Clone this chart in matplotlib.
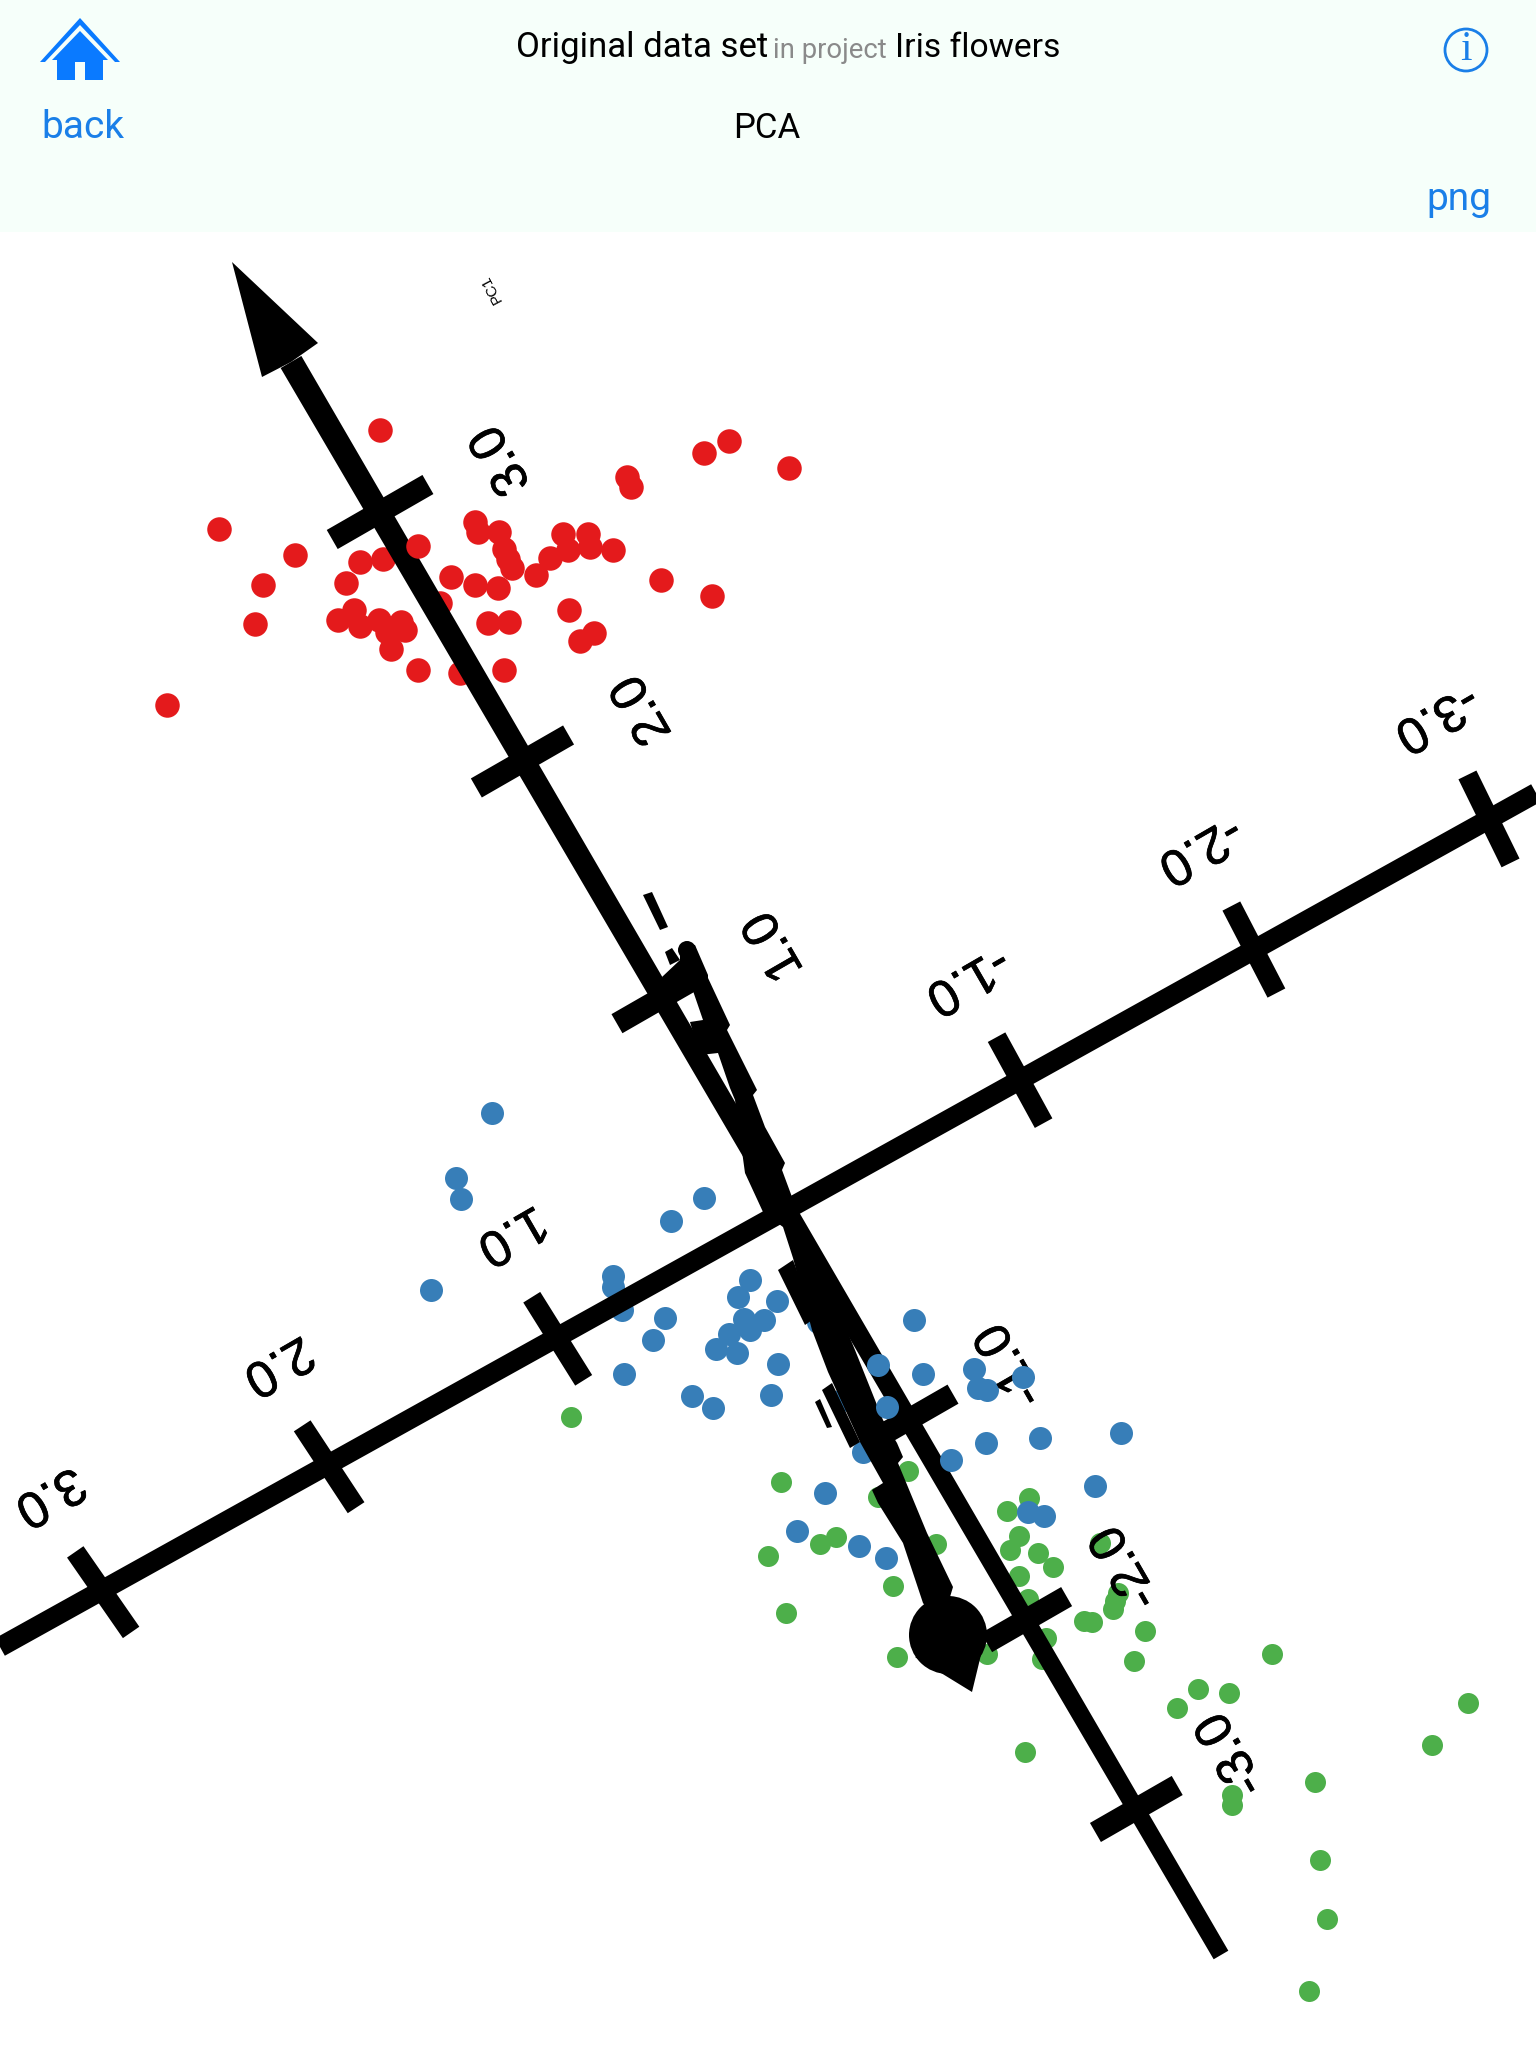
# PCA biplot screen: iris flowers, three principal axes seen in perspective
import numpy as np
from matplotlib import pyplot as plt
from matplotlib import patheffects as pe
from matplotlib.patches import Polygon, Circle, Rectangle

K = 1536 / 1176  # points were read on the shrunk picture

red_x = [291,168,226,201,195,128,265,276,293,364,366,382,386,389,392,431,450,452,435,421,469,410,345,364,381,337,
         480,483,539,558,604,506,545,436,455,444,374,390,386,352,320,299,259,271,276,290,296,307,310]
red_y = [329,405,425,448,478,540,446,430,428,400,407,407,420,428,435,409,409,419,421,427,421,440,442,448,450,462,
         365,373,347,338,358,444,456,467,485,491,477,476,513,515,513,497,475,467,479,475,484,476,482]
red_front_x = [320]
red_front_y = [418]

blue_x = [377,349,353,330,514,539,469,469,476,509,500,478,530,546,548,564,558,565,574,570,574,585,595,596,590,626,
          700,707,746,749,756,755,796,858,838,787,799,632,610,658,678,661,645]
blue_y = [852,902,918,988,935,917,977,985,1003,1009,1026,1052,1069,1078,1033,1036,1021,993,980,1010,1018,1011,996,1044,1068,1012,
          1011,1052,1048,1063,1064,1105,1101,1097,1138,1158,1161,1143,1172,1184,1193,1112,1072]
# these four sit in front of the axes
blue_front_x = [672,679,728,783]
blue_front_y = [1045,1077,1118,1054]

green_x = [598,588,628,640,602,684,687,695,672,717,788,771,780,773,795,806,780,787,830,836,801,756,798,842,
           437,877,868,856,854,852,974,917,941,901,785,1007,943,943,1096,1124,1011,1016,1002]
green_y = [1135,1191,1182,1177,1235,1214,1269,1126,1146,1182,1147,1157,1176,1187,1189,1200,1207,1224,1241,1242,1254,1266,1270,1181,
           1085,1249,1272,1220,1226,1232,1266,1293,1296,1308,1341,1364,1374,1382,1336,1304,1424,1469,1524]

pc1_labels = ['3.0','2.0','1.0','-1.0','-2.0','-3.0']
pc1_tick_x = [291,400,505,699,786,870]
pc1_tick_y = [392,583,765,1085,1240,1385]
pc1_tick_half = [55,53,49,46,46,47]
pc1_label_x = [384,492,593,774,862,943]
pc1_label_y = [352,543,724,1045,1200,1343]

pc2_labels = ['3.0','2.0','1.0','-1.0','-2.0','-3.0']
pc2_tick_x = [79,252,427,781,960,1140]
pc2_tick_y = [1219,1123,1025,827,727,627]
pc2_tick_dx = [0.57,0.55,0.53,0.48,0.46,0.44]
pc2_label_x = [38,213,392,741,919,1100]
pc2_label_y = [1145,1045,945,750,650,549]

# outline of the PC3 shaft, it widens towards the viewer
pc3_outline = [(680,945),(695,945),(708,975),(708,978),(730,1025),(727,1030),(757,1090),(753,1095),(765,1127),
               (785,1163),(782,1170),(792,1197),(830,1290),(855,1350),(883,1420),(897,1443),(903,1457),(898,1463),
               (927,1533),(953,1587),(950,1597),(948,1635),(923,1603),(903,1543),(878,1503),(872,1490),(883,1483),
               (860,1442),(828,1372),(812,1330),(793,1258),(783,1227),(763,1212),(745,1173),(735,1100),(730,1088),
               (718,1053),(700,1055),(690,1022),(703,1020),(692,988),(665,995),(662,977),(680,960)]
# squeezed ticks and labels of PC3
pc3_pieces = [[(778,1270),(793,1260),(815,1318),(805,1325)],
              [(822,1390),(832,1383),(860,1442),(850,1448)],
              [(815,1402),(820,1399),(832,1427),(827,1428)],
              [(643,895),(652,892),(668,927),(660,930)],
              [(665,952),(672,948),(680,960),(670,965)]]

BLACK = 'black'
BLUE = '#0A7AFF'
LINK = '#1A7FE8'
HEAD = '#F6FFFA'

fig = plt.figure(figsize=(15.36, 20.48), dpi=100)
ax = fig.add_axes([0, 0, 1, 1])
ax.set_xlim(0, 1536)
ax.set_ylim(2048, 0)
ax.axis('off')


def px(w):
    # picture pixels to points
    return w * 72 / 100


def wedge(p0, p1, w0, w1, z=5):
    p0, p1 = np.array(p0, float), np.array(p1, float)
    d = (p1 - p0) / np.linalg.norm(p1 - p0)
    n = np.array([-d[1], d[0]])
    pts = [p0 + n*w0/2, p1 + n*w1/2, p1 - n*w1/2, p0 - n*w0/2]
    ax.add_patch(Polygon(pts, closed=True, fc=BLACK, ec='none', zorder=z))


def stroke(x0, y0, x1, y1, w, z=5):
    ax.plot([x0, x1], [y0, y1], color=BLACK, lw=px(w), solid_capstyle='butt', zorder=z)


def label(x, y, t, rot, size=37, bold=0.5):
    effects = [pe.withStroke(linewidth=bold, foreground=BLACK)] if bold else None
    ax.text(x, y, t, fontsize=size, family='Liberation Sans', rotation=rot, rotation_mode='anchor',
            ha='center', va='center', zorder=5, path_effects=effects)


# points
ax.scatter(np.array(green_x)*K, np.array(green_y)*K, s=px(21)**2, c='#4DAF4A', linewidths=0, zorder=2)
ax.scatter(np.array(blue_x)*K, np.array(blue_y)*K, s=px(23)**2, c='#377EB8', linewidths=0, zorder=3)
ax.scatter(np.array(red_x)*K, np.array(red_y)*K, s=px(24.5)**2, c='#E41A1C', linewidths=0, zorder=3)

# PC1
wedge((291, 362), (1221, 1955), 24, 17)
ax.add_patch(Polygon([(232, 262), (262, 377), (291, 362), (318, 343)], closed=True, fc=BLACK, ec='none', zorder=5))
for x, y, h in zip(pc1_tick_x, pc1_tick_y, pc1_tick_half):
    cx, cy = x*K, y*K
    stroke(cx - h*0.87, cy + h*0.5, cx + h*0.87, cy - h*0.5, 22)
for t, x, y in zip(pc1_labels, pc1_label_x, pc1_label_y):
    label(x*K, y*K, t, 120)
label(376*K, 221*K, 'PC1', 118, size=11, bold=0)

# PC2
stroke(0, 1647, 1536, 793, 20)
for x, y, dx in zip(pc2_tick_x, pc2_tick_y, pc2_tick_dx):
    cx, cy = x*K, y*K
    dy = np.sqrt(1 - dx**2)
    stroke(cx - 49*dx, cy - 49*dy, cx + 49*dx, cy + 49*dy, 20)
for t, x, y in zip(pc2_labels, pc2_label_x, pc2_label_y):
    label(x*K, y*K, t, 210)

# PC3, coming towards the viewer
ax.add_patch(Polygon(pc3_outline, closed=True, fc=BLACK, ec='none', zorder=6))
for piece in pc3_pieces:
    ax.add_patch(Polygon(piece, closed=True, fc=BLACK, ec='none', zorder=6))
ax.add_patch(Circle((687, 950), 9, fc=BLACK, ec='none', zorder=6))
ax.add_patch(Circle((948, 1635), 39, fc=BLACK, ec='none', zorder=6))
ax.add_patch(Polygon([(915, 1657), (972, 1692), (987, 1630)], closed=True, fc=BLACK, ec='none', zorder=6))

# points over the axes
ax.scatter(np.array(blue_front_x)*K, np.array(blue_front_y)*K, s=px(23)**2, c='#377EB8', linewidths=0, zorder=7)
ax.scatter(np.array(red_front_x)*K, np.array(red_front_y)*K, s=px(24.5)**2, c='#E41A1C', linewidths=0, zorder=7)

# header
ax.add_patch(Rectangle((0, 0), 1536, 232, fc=HEAD, ec='none', zorder=10))
ax.add_patch(Polygon([(80, 18), (120, 62), (115, 62), (80, 25), (45, 62), (40, 62)], closed=True, fc=BLUE, ec='none', zorder=11))
ax.add_patch(Polygon([(80, 31), (108, 60), (52, 60)], closed=True, fc=BLUE, ec='none', zorder=11))
ax.add_patch(Rectangle((57, 60), 46, 20, fc=BLUE, ec='none', zorder=11))
ax.add_patch(Rectangle((75, 62), 10, 18, fc=HEAD, ec='none', zorder=12))

FONT = 'Roboto'
ax.text(516, 48, 'Original data set', fontsize=25, family=FONT, ha='left', va='center', zorder=11)
ax.text(773, 50, 'in project', fontsize=19.8, family=FONT, color='#8A8A8A', ha='left', va='center', zorder=11)
ax.text(895, 48, 'Iris flowers', fontsize=24.2, family=FONT, ha='left', va='center', zorder=11)
ax.text(767, 129, 'PCA', fontsize=25, family=FONT, ha='center', va='center', zorder=11)
ax.text(83, 128, 'back', fontsize=28, family=FONT, color=LINK, ha='center', va='center', zorder=11)
ax.text(1459, 199, 'png', fontsize=28, family=FONT, color=LINK, ha='center', va='center', zorder=11)
ax.add_patch(Circle((1466, 50), 21, fc='none', ec=LINK, lw=2, zorder=11))
ax.text(1466, 50, 'i', fontsize=30, family='Liberation Serif', color=LINK, ha='center', va='center', zorder=11)

fig.savefig('out.png', dpi=100)
